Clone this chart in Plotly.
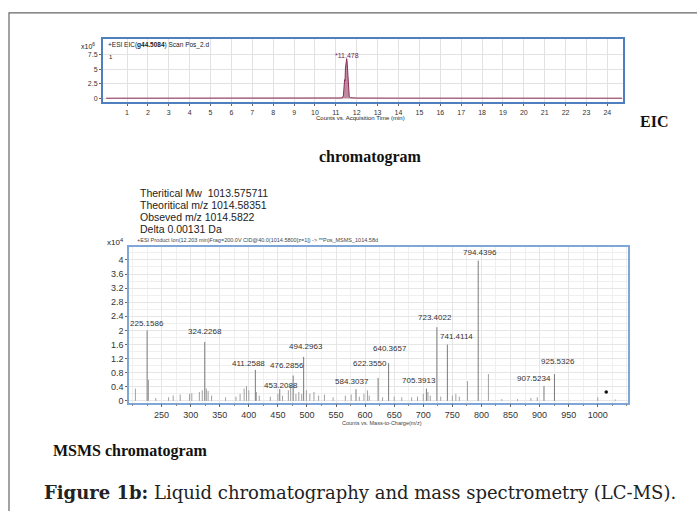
import plotly.graph_objects as go

W, H = 697, 511

# ---------------- EIC data (counts x10^6) ----------------
eic_time = [0, 2, 4, 6, 8, 10, 11.0, 11.30, 11.36, 11.40, 11.42, 11.44, 11.46, 11.48, 11.50,
            11.52, 11.54, 11.56, 11.58, 11.60, 11.64, 11.70, 12.0, 14, 16, 18, 20, 22, 24, 24.7]
eic_int = [0.02, 0.02, 0.02, 0.02, 0.02, 0.03, 0.04, 0.06, 0.4, 1.8, 3.2, 3.0, 5.2, 6.2, 6.6,
           6.8, 6.2, 4.6, 2.6, 1.2, 0.35, 0.1, 0.05, 0.03, 0.02, 0.02, 0.02, 0.02, 0.02, 0.02]
eic_ticks = list(range(1, 25))
eic_yticks = [0, 2.5, 5, 7.5]
eic_ytext = ["0", "2.5", "5", "7.5"]
eic_peak_label = "*11.478"
eic_peak_rt = 11.52

# ---------------- MSMS data (counts x10^4) ----------------
major_mz = [225.1586, 324.2268, 411.2588, 453.2088, 476.2856, 494.2963, 584.3037, 622.3550,
            640.3657, 705.3913, 723.4022, 741.4114, 794.4396, 907.5234, 925.5326]
major_int = [2.0, 1.67, 0.88, 0.33, 0.72, 1.25, 0.33, 0.65, 1.07, 0.35, 2.09, 1.6, 3.98, 0.42, 0.76]
label_mz = [225.2, 324.2, 400.0, 454.5, 466.0, 497.6, 577.6, 608.6, 642.8, 692.0, 720.8, 757.8,
            797.7, 890.7, 930.8]
label_int = [2.20, 1.98, 1.07, 0.43, 1.00, 1.53, 0.56, 1.07, 1.50, 0.57, 2.37, 1.84, 4.21, 0.63, 1.13]

minor_mz = [205, 227.5, 240, 262, 270, 282, 298, 302, 315, 320, 327, 330, 336, 360, 378, 385, 392,
            396, 400, 413, 418, 437, 450, 458, 468, 472, 481, 486, 491, 499, 505, 512, 520, 530,
            545, 566, 576, 590, 598, 604, 607, 630, 650, 663, 680, 690, 700, 708, 712, 730, 750,
            756, 762, 776, 812, 835, 862, 885, 896, 1000, 1030]
minor_int = [0.35, 0.6, 0.08, 0.1, 0.15, 0.18, 0.2, 0.22, 0.25, 0.3, 0.35, 0.28, 0.15, 0.1, 0.12,
             0.2, 0.35, 0.42, 0.3, 0.25, 0.15, 0.12, 0.2, 0.15, 0.3, 0.45, 0.2, 0.25, 0.2, 0.3,
             0.2, 0.25, 0.15, 0.18, 0.1, 0.15, 0.18, 0.12, 0.2, 0.3, 0.15, 0.1, 0.12, 0.1, 0.1,
             0.12, 0.2, 0.25, 0.15, 0.12, 0.15, 0.2, 0.12, 0.56, 0.76, 0.05, 0.05, 0.08, 0.1,
             0.1, 0.04]
precursor_mz = [1014.58]
precursor_int = [0.25]

ms_xticks = list(range(250, 1001, 50))
ms_yticks = [0, 0.4, 0.8, 1.2, 1.6, 2, 2.4, 2.8, 3.2, 3.6, 4]
ms_ytext = ["0", "0.4", "0.8", "1.2", "1.6", "2", "2.4", "2.8", "3.2", "3.6", "4"]

info_lines = ["Theritical Mw  1013.575711", "Theoritical m/z 1014.58351",
              "Obseved m/z 1014.5822", "Delta 0.00131 Da"]


def px(x):
    return x / W


def py(y):
    return 1 - y / H


def sticks(xs, ys):
    sx, sy = [], []
    for a, b in zip(xs, ys):
        sx += [a, a, None]
        sy += [0, b, None]
    return sx, sy


fig = go.Figure()

# EIC trace
fig.add_trace(go.Scatter(x=eic_time, y=eic_int, mode="lines", xaxis="x", yaxis="y",
                         line=dict(color="#8c2c55", width=1), fill="tozeroy",
                         fillcolor="rgba(140,44,85,0.55)", hoverinfo="skip"))

# MSMS sticks
sx, sy = sticks(minor_mz, minor_int)
fig.add_trace(go.Scatter(x=sx, y=sy, mode="lines", xaxis="x2", yaxis="y2",
                         line=dict(color="#a0a0a0", width=1), hoverinfo="skip"))
sx, sy = sticks(major_mz, major_int)
fig.add_trace(go.Scatter(x=sx, y=sy, mode="lines", xaxis="x2", yaxis="y2",
                         line=dict(color="#7a7a7a", width=1), hoverinfo="skip"))
fig.add_trace(go.Scatter(x=precursor_mz, y=precursor_int, mode="markers", xaxis="x2", yaxis="y2",
                         marker=dict(color="#111", size=3.5), hoverinfo="skip"))

tickfont = dict(family="Liberation Sans", size=7, color="#333")
axcol = "#4f7fbf"

fig.update_layout(
    width=W, height=H, margin=dict(l=0, r=0, t=0, b=0),
    paper_bgcolor="white", plot_bgcolor="white", showlegend=False,
    xaxis=dict(domain=[px(103), px(623)], range=[-0.15, 24.75], anchor="y",
               tickvals=eic_ticks, ticks="outside", ticklen=2, tickcolor="#666",
               showline=True, mirror=True, linecolor=axcol, linewidth=2,
               showgrid=True, gridcolor="#e2e2e2", gridwidth=1, zeroline=False,
               tickfont=tickfont),
    yaxis=dict(domain=[py(103), py(39)], range=[-0.7, 10.2], anchor="x",
               tickvals=eic_yticks, ticktext=eic_ytext, ticks="outside", ticklen=2,
               tickcolor="#666", showline=True, mirror=True, linecolor=axcol, linewidth=2,
               showgrid=True, gridcolor="#e2e2e2", zeroline=False, tickfont=tickfont),
    xaxis2=dict(domain=[px(129), px(628)], range=[194, 1052], anchor="y2",
                tickvals=ms_xticks, ticks="outside", ticklen=3, tickcolor="#666",
                showline=True, mirror=True, linecolor="#7ea6d6", linewidth=1.5,
                showgrid=True, gridcolor="#e6e6e6", zeroline=False,
                minor=dict(dtick=25, tick0=0, showgrid=True, gridcolor="#efefef", ticks="outside",
                           ticklen=2, tickcolor="#888"),
                tickfont=dict(family="Liberation Sans", size=9, color="#333")),
    yaxis2=dict(domain=[py(405), py(248)], range=[-0.05, 4.38], anchor="x2",
                tickvals=ms_yticks, ticktext=ms_ytext, ticks="outside", ticklen=2,
                tickcolor="#666", showline=True, mirror=True, linecolor="#7ea6d6",
                linewidth=1.5, showgrid=True, gridcolor="#e6e6e6", zeroline=False,
                minor=dict(dtick=0.2, tick0=0, showgrid=True, gridcolor="#efefef"),
                tickfont=dict(family="Liberation Sans", size=9, color="#333")),
)

ann = []


def add_text(x, y, text, size, family="Liberation Sans", color="#222", xanchor="center"):
    ann.append(dict(x=px(x), y=py(y), xref="paper", yref="paper", text=text, showarrow=False,
                    xanchor=xanchor, yanchor="middle",
                    font=dict(family=family, size=size, color=color)))


# EIC texts
add_text(88, 46, "x10<sup>6</sup>", 7)
add_text(106, 45, "+ESI EIC(<b>g44.5084</b>) Scan Pos_2.d", 6.5, xanchor="left")
add_text(107, 57, "1", 6, xanchor="left")
add_text(360, 119, "Counts vs. Acquisition Time (min)", 6)
ann.append(dict(x=eic_peak_rt, y=7.4, xref="x", yref="y", text=eic_peak_label, showarrow=False,
                font=dict(family="Liberation Sans", size=7, color="#7a2348")))
add_text(654, 122, "<b>EIC</b>", 16, family="Liberation Serif", color="#111")
add_text(371, 158, "<b>chromatogram</b>", 16, family="Liberation Serif", color="#111")

# MSMS header texts
for i, line in enumerate(info_lines):
    add_text(138, 194 + i * 12, line, 10.5, xanchor="left", color="#222")
add_text(135, 241,
         "+ESI Product Ion(12.203 min)Frag=200.0V CID@40.0(1014.5800[z=1]) -> **Pos_MSMS_1014.58d",
         5.5, xanchor="left", color="#444")
add_text(115, 243, "x10<sup>4</sup>", 8)

for m, lx, ly in zip(major_mz, label_mz, label_int):
    ann.append(dict(x=lx, y=ly, xref="x2", yref="y2", text=f"{m:.4f}", showarrow=False,
                    font=dict(family="Liberation Sans", size=8, color="#333")))

add_text(382, 426, "Counts vs. Mass-to-Charge(m/z)", 5.5, color="#444")
add_text(51, 454, "<b>MSMS chromatogram</b>", 16, family="Liberation Serif", color="#111",
         xanchor="left")
add_text(42, 495, "<b>Figure 1b:</b> Liquid chromatography and mass spectrometry (LC-MS).", 18,
         family="DejaVu Serif", color="#222", xanchor="left")

fig.update_layout(annotations=ann)

fig.add_shape(type="rect", xref="paper", yref="paper", x0=px(9), x1=1.05, y0=-0.05, y1=py(13),
              line=dict(color="#666", width=1.2), layer="below")

fig.write_html("out.html", config={"displayModeBar": False},
               post_script="document.body.style.margin='0px';")
